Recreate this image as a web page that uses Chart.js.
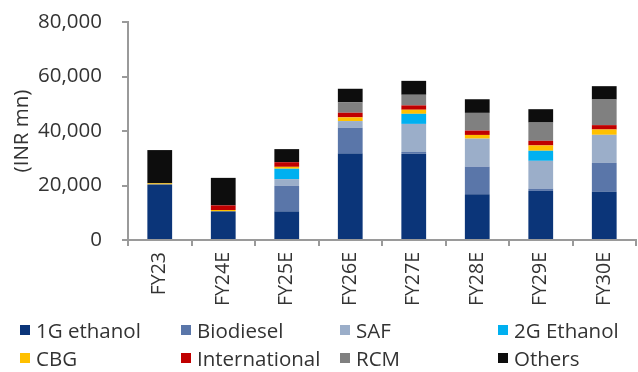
<!DOCTYPE html>
<html>
<head>
<meta charset="utf-8">
<script src="https://cdn.jsdelivr.net/npm/chart.js@4/dist/chart.umd.min.js"></script>
<style>
  html, body { margin: 0; padding: 0; background: #fff; }
  #wrap { position: relative; width: 638px; height: 372px; overflow: hidden; }
  #chartBox { position: absolute; left: 0; top: 0; width: 638px; height: 310px; }
  #legend { position: absolute; left: 0; top: 0; width: 638px; height: 372px; pointer-events: none;
            font-family: "Open Sans", sans-serif; font-size: 20.5px; color: #333; }
  .item { position: absolute; display: flex; align-items: center; white-space: nowrap; }
  .sw { width: 10px; height: 10px; margin-right: 6px; }
</style>
</head>
<body>
<div id="wrap">
  <div id="chartBox"><canvas id="c" width="638" height="310"></canvas></div>
  <div id="legend"></div>
</div>
<script>
// Fiscal years on the x axis
const years = ['FY23', 'FY24E', 'FY25E', 'FY26E', 'FY27E', 'FY28E', 'FY29E', 'FY30E'];

// Revenue by segment, INR mn
const ethanol1G     = [20400, 10500, 10500, 31700, 31600, 16800, 18000, 17700];
const biodiesel     = [0, 0, 9400, 9500, 700, 10100, 850, 10600];
const saf           = [0, 0, 2450, 2450, 10300, 10300, 10200, 10300];
const ethanol2G     = [0, 0, 3800, 0, 3700, 0, 3700, 0];
const cbg           = [400, 500, 700, 1350, 1500, 1350, 1950, 1950];
const international = [0, 1700, 1700, 1700, 1600, 1600, 1700, 1600];
const rcm           = [0, 0, 0, 3800, 3900, 6500, 6700, 9400];
const others        = [12200, 10100, 4800, 5000, 5100, 5000, 4900, 4900];

// Y axis tick values
const yTicks = [0, 20000, 40000, 60000, 80000];

const seriesNames = ['1G ethanol', 'Biodiesel', 'SAF', '2G Ethanol', 'CBG', 'International', 'RCM', 'Others'];
const seriesData = [ethanol1G, biodiesel, saf, ethanol2G, cbg, international, rcm, others];
const seriesColors = ['#0B3579', '#5A76A9', '#9BAEC9', '#00B0F0', '#FFC000', '#C00000', '#808080', '#0D0D0D'];

const fontFamily = '"Open Sans", sans-serif';
const textColor = '#333333';
const axisColor = '#9a9a9a';

const chart = new Chart(document.getElementById('c'), {
  type: 'bar',
  data: {
    labels: years,
    datasets: seriesNames.map((name, i) => ({
      label: name,
      data: seriesData[i],
      backgroundColor: seriesColors[i],
      borderWidth: 0,
      categoryPercentage: 1,
      barPercentage: 0.39
    }))
  },
  options: {
    responsive: false,
    animation: false,
    layout: { padding: { top: 22, right: 2, left: 0, bottom: 0 } },
    plugins: { legend: { display: false }, tooltip: { enabled: false } },
    scales: {
      x: {
        stacked: true,
        offset: true,
        afterFit: s => { s.height = 70; },
        grid: { drawOnChartArea: false, offset: true, tickLength: 6, color: axisColor, lineWidth: 2 },
        border: { color: axisColor, width: 2 },
        ticks: {
          maxRotation: 90, minRotation: 90, padding: 6,
          color: textColor, font: { family: fontFamily, size: 19.5 }
        }
      },
      y: {
        stacked: true,
        min: 0, max: 80000,
        // fixed axis width; keep the label gap from pushing the plot down
        afterFit: s => { s.width = 128; s.paddingTop = 11; s.paddingBottom = 11; },
        afterBuildTicks: s => { s.ticks = yTicks.map(v => ({ value: v })); },
        grid: { drawOnChartArea: false, tickLength: 6, color: axisColor, lineWidth: 2 },
        border: { color: axisColor, width: 2 },
        title: {
          display: true, text: '(INR mn)', color: textColor,
          font: { family: fontFamily, size: 20.5 }, padding: { top: 10, bottom: 0 }
        },
        ticks: {
          padding: 20, color: textColor,
          font: { family: fontFamily, size: 20.5 },
          callback: v => v.toLocaleString('en-US')
        }
      }
    }
  }
});

// Legend laid out as a 4-column grid under the plot
const legendCols = [20, 181, 340, 498];
const legendRows = [330, 358];
const legend = document.getElementById('legend');
seriesNames.forEach((name, i) => {
  const el = document.createElement('div');
  el.className = 'item';
  el.style.left = legendCols[i % 4] + 'px';
  el.style.top = (legendRows[Math.floor(i / 4)] - 14) + 'px';
  el.style.height = '28px';
  const sw = document.createElement('span');
  sw.className = 'sw';
  sw.style.background = seriesColors[i];
  const tx = document.createElement('span');
  tx.textContent = name;
  el.appendChild(sw);
  el.appendChild(tx);
  legend.appendChild(el);
});
</script>
</body>
</html>
